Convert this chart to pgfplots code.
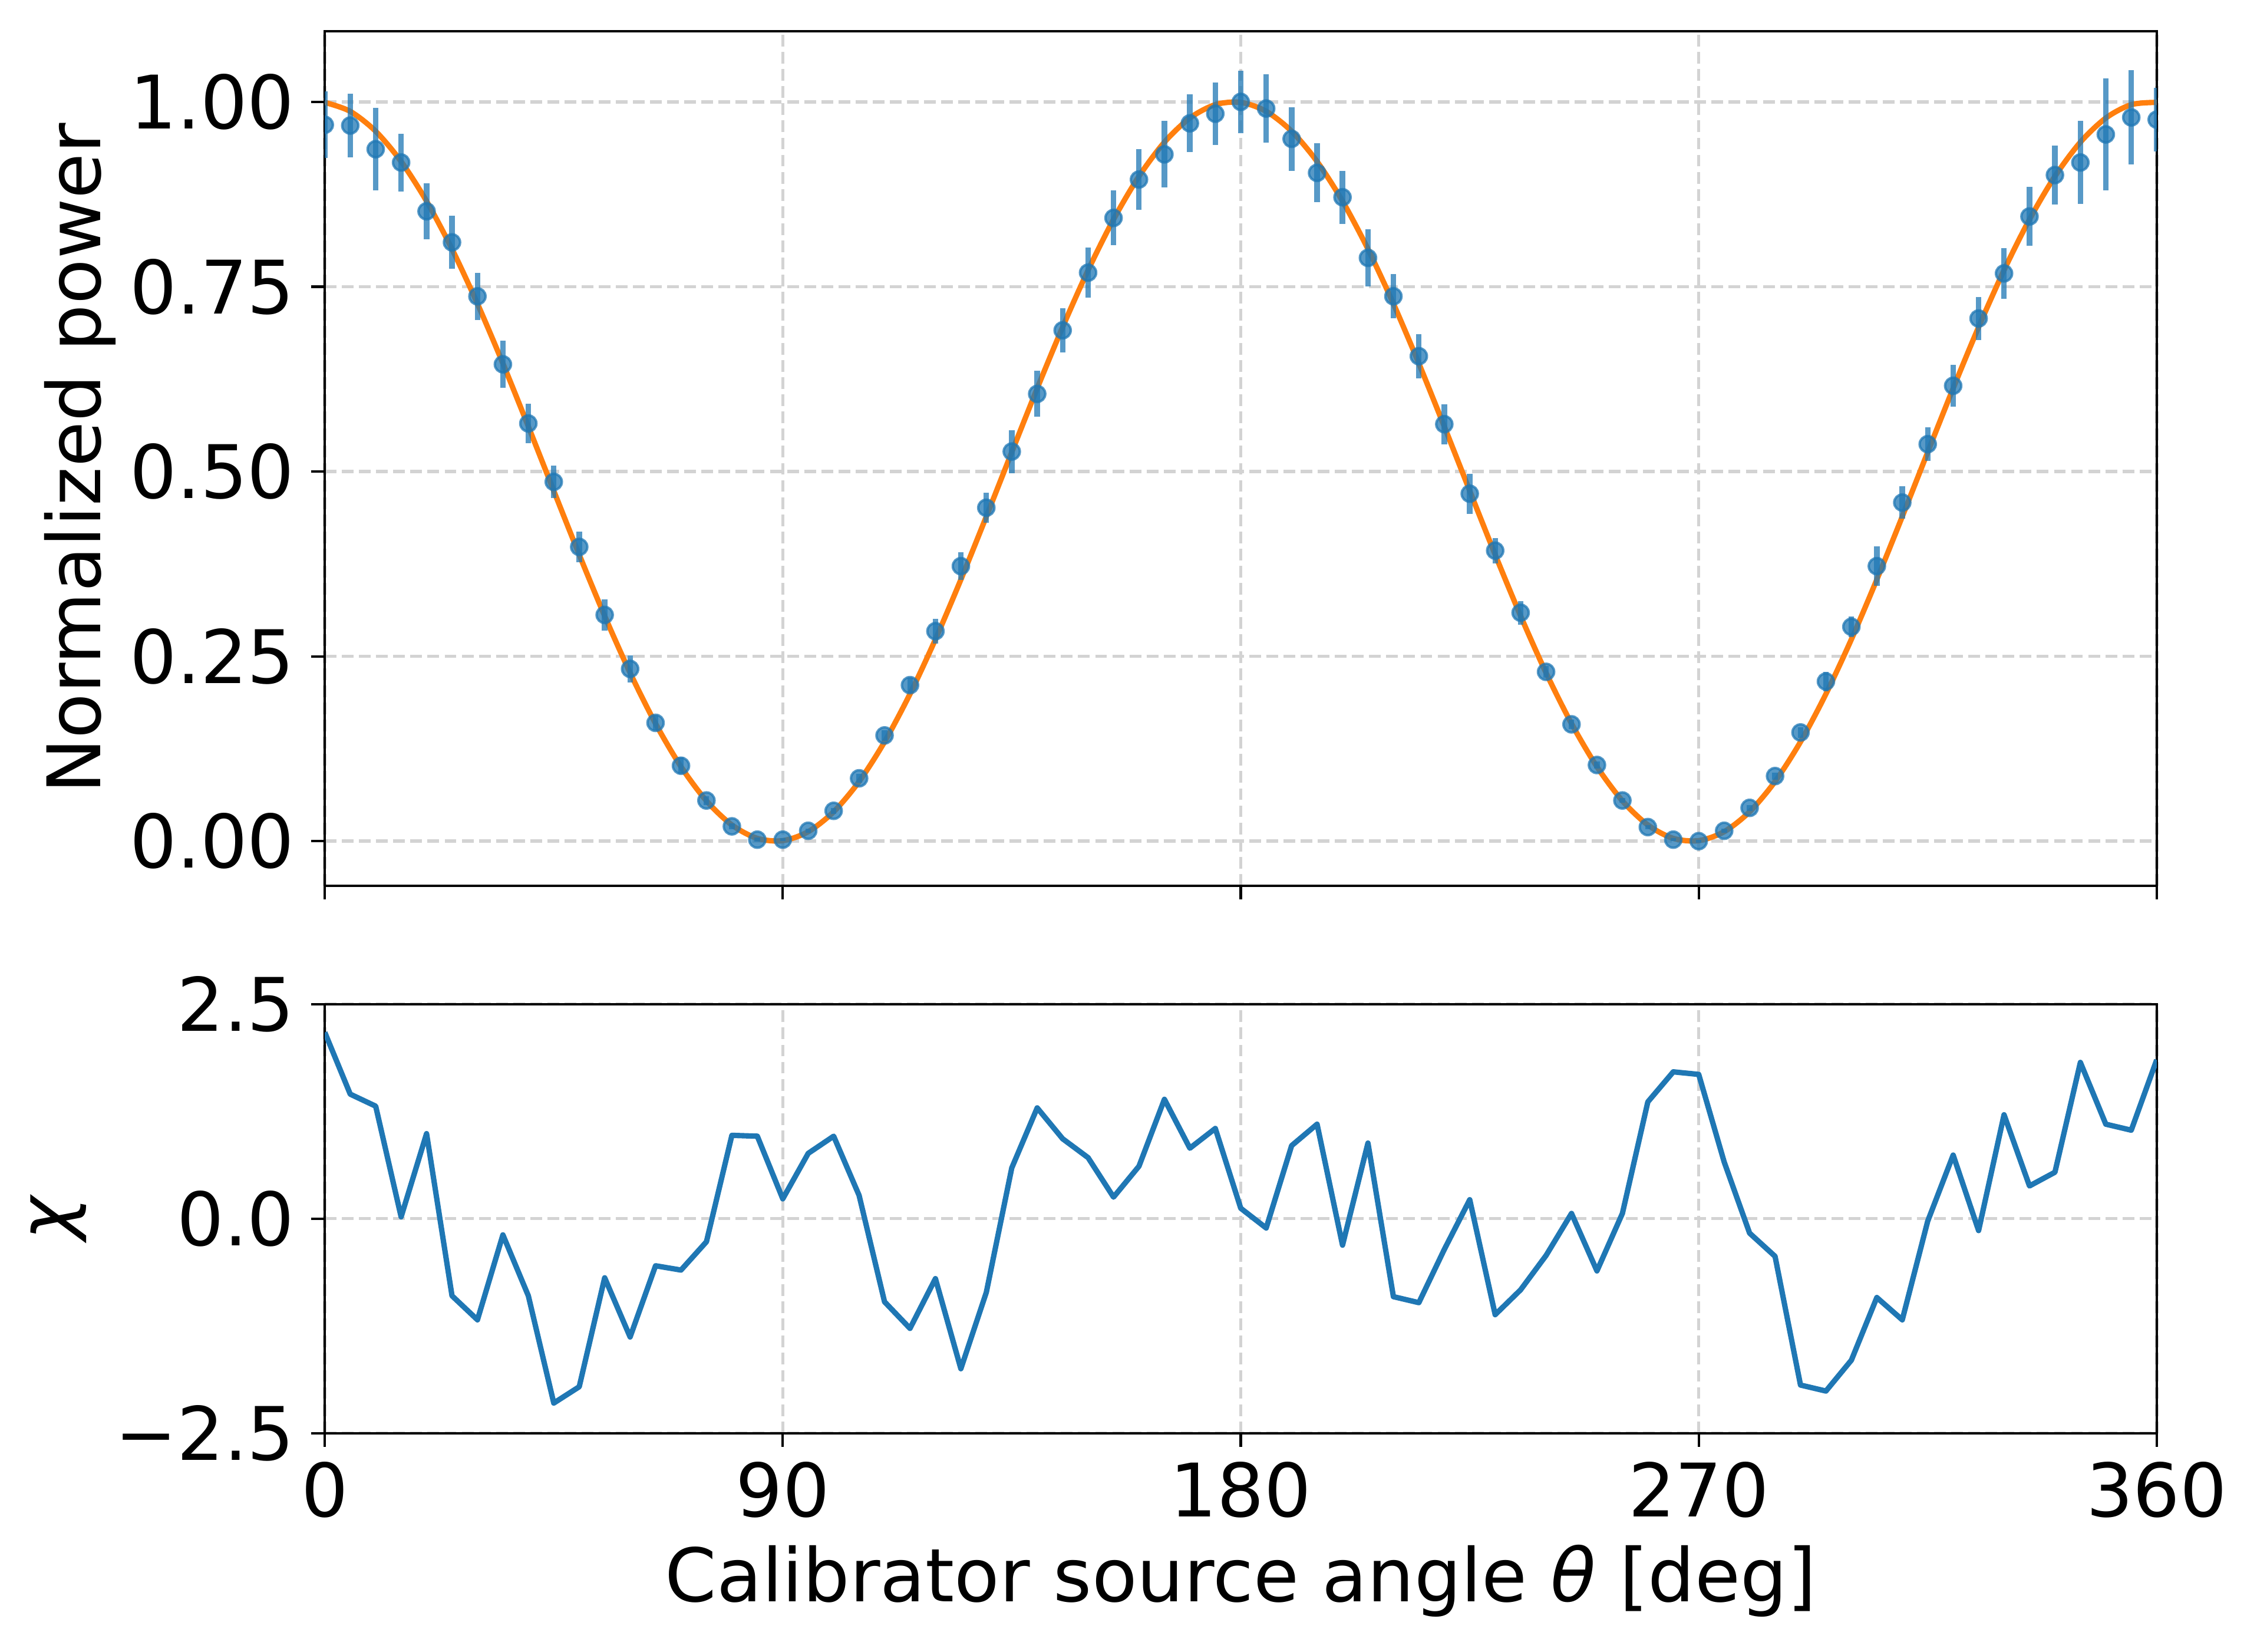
\documentclass[border=0pt]{standalone}
\usepackage{fontspec}
\setmainfont{DejaVu Sans}
\usepackage{pgfplots}
\pgfplotsset{compat=1.18}
\usepackage{pgfplotstable}
\definecolor{tabblue}{HTML}{1F77B4}
\definecolor{taborange}{HTML}{FF7F0E}
\definecolor{gridgray}{HTML}{D3D3D3}
\newcommand{\fs}{\fontsize{15.1}{18}\selectfont}

\pgfplotstableread{
x y e
0 0.969 0.045
5 0.968 0.043
10 0.936 0.056
15 0.918 0.039
20 0.852 0.038
25 0.810 0.036
30 0.737 0.032
35 0.645 0.032
40 0.565 0.027
45 0.486 0.022
50 0.398 0.021
55 0.306 0.021
60 0.233 0.018
65 0.160 0.010
70 0.102 0.011
75 0.055 0.006
80 0.020 0.004
85 0.002 0.003
90 0.002 0.002
95 0.014 0.003
100 0.041 0.004
105 0.085 0.006
110 0.143 0.007
115 0.211 0.010
120 0.284 0.017
125 0.372 0.019
130 0.451 0.020
135 0.527 0.029
140 0.605 0.031
145 0.691 0.030
150 0.769 0.034
155 0.843 0.037
160 0.895 0.041
165 0.929 0.045
170 0.971 0.039
175 0.984 0.042
180 1.000 0.042
185 0.991 0.046
190 0.950 0.043
195 0.904 0.040
200 0.871 0.036
205 0.789 0.039
210 0.737 0.030
215 0.656 0.030
220 0.564 0.027
225 0.470 0.027
230 0.393 0.017
235 0.309 0.016
240 0.229 0.008
245 0.158 0.006
250 0.103 0.005
255 0.055 0.003
260 0.019 0.003
265 0.002 0.002
270 0.000 0.002
275 0.014 0.003
280 0.045 0.004
285 0.088 0.005
290 0.147 0.007
295 0.216 0.013
300 0.290 0.014
305 0.372 0.027
310 0.458 0.022
315 0.537 0.023
320 0.616 0.028
325 0.707 0.029
330 0.768 0.034
335 0.845 0.040
340 0.901 0.040
345 0.918 0.056
350 0.956 0.076
355 0.979 0.064
360 0.976 0.043
}\powertable

\pgfplotstableread{
x y
0 0.99931
5 0.98719
10 0.96025
15 0.91934
20 0.86568
25 0.80091
30 0.72700
35 0.64619
40 0.56093
45 0.47383
50 0.38752
55 0.30463
60 0.22768
65 0.15900
70 0.10068
75 0.05450
80 0.02185
85 0.00373
90 0.00069
95 0.01281
100 0.03975
105 0.08066
110 0.13432
115 0.19909
120 0.27300
125 0.35381
130 0.43907
135 0.52617
140 0.61248
145 0.69537
150 0.77232
155 0.84100
160 0.89932
165 0.94550
170 0.97815
175 0.99627
180 0.99931
185 0.98719
190 0.96025
195 0.91934
200 0.86568
205 0.80091
210 0.72700
215 0.64619
220 0.56093
225 0.47383
230 0.38752
235 0.30463
240 0.22768
245 0.15900
250 0.10068
255 0.05450
260 0.02185
265 0.00373
270 0.00069
275 0.01281
280 0.03975
285 0.08066
290 0.13432
295 0.19909
300 0.27300
305 0.35381
310 0.43907
315 0.52617
320 0.61248
325 0.69537
330 0.77232
335 0.84100
340 0.89932
345 0.94550
350 0.97815
355 0.99627
360 0.99931
}\fittable

\pgfplotstableread{
x y
0 2.17
5 1.45
10 1.31
15 0.02
20 0.99
25 -0.90
30 -1.18
35 -0.19
40 -0.90
45 -2.15
50 -1.96
55 -0.69
60 -1.38
65 -0.55
70 -0.60
75 -0.27
80 0.97
85 0.96
90 0.23
95 0.76
100 0.96
105 0.27
110 -0.97
115 -1.28
120 -0.70
125 -1.75
130 -0.86
135 0.59
140 1.29
145 0.93
150 0.71
155 0.25
160 0.61
165 1.39
170 0.82
175 1.05
180 0.12
185 -0.11
190 0.85
195 1.10
200 -0.31
205 0.88
210 -0.91
215 -0.98
220 -0.36
225 0.22
230 -1.12
235 -0.83
240 -0.43
245 0.06
250 -0.61
255 0.06
260 1.36
265 1.71
270 1.68
275 0.66
280 -0.17
285 -0.44
290 -1.94
295 -2.01
300 -1.65
305 -0.92
310 -1.18
315 -0.03
320 0.74
325 -0.14
330 1.21
335 0.38
340 0.54
345 1.82
350 1.10
355 1.03
360 1.85
}\restable

\pgfplotsset{
  myaxis/.style={
    scale only axis,
    width=374.5pt,
    xmin=0, xmax=360,
    xtick={0,90,180,270,360},
    grid=major,
    major grid style={gridgray, line width=0.65pt, dash pattern=on 2.4pt off 1.1pt},
    axis line style={line width=0.5pt},
    tick style={black, line width=0.5pt},
    major tick length=2.8pt,
    tick align=outside,
    tick pos=left,
    tick label style={font=\fs},
    xticklabel style={inner sep=0pt, inner ysep=2.86pt, anchor=north},
    yticklabel style={inner sep=0pt, inner xsep=3.2pt, anchor=east},
    label style={font=\fs},
    /pgf/number format/assume math mode=true,
    clip marker paths=true,
  }
}

\begin{document}
\begin{tikzpicture}
\begin{axis}[myaxis, name=top, at={(0pt,0pt)}, anchor=north west,
  height=174.65pt,
  ymin=-0.0602, ymax=1.0956,
  ytick={0,0.25,0.5,0.75,1},
  yticklabels={0.00,0.25,0.50,0.75,1.00},
  xticklabels={},
  ylabel={Normalized power},
  ylabel style={at={(axis description cs:-0.12256,0.5)}, anchor=base},
]
\addplot[taborange, line width=1.1pt, smooth, no marks] table[x=x,y=y] {\fittable};
\addplot[only marks, mark=*, mark size=1.65pt,
  mark options={fill=tabblue, draw=tabblue, fill opacity=0.75, draw opacity=0.75, line width=0.5pt},
  error bars/.cd, y dir=both, y explicit, error mark=none,
  error bar style={line width=1.13pt, tabblue, opacity=0.75}]
  table[x=x, y=y, y error=e] {\powertable};
\end{axis}
\begin{axis}[myaxis, at={(0pt,-198.85pt)}, anchor=north west,
  height=87.7pt,
  ymin=-2.5, ymax=2.5,
  ytick={-2.5,0,2.5},
  yticklabels={−2.5,0.0,2.5},
  xticklabels={0,90,180,270,360},
  xlabel={Calibrator source angle {\itshape θ} [deg]},
  xlabel style={at={(axis description cs:0.5,-0.3928)}, anchor=base},
  ylabel={{\itshape χ}},
  ylabel style={at={(axis description cs:-0.13858,0.5)}, anchor=base},
]
\addplot[tabblue, line width=1.1pt, line join=round, no marks] table[x=x,y=y] {\restable};
\end{axis}
\pgfresetboundingbox
\path (-66.4pt,6.38pt) rectangle (395.0pt,-331.2pt);
\end{tikzpicture}
\end{document}
